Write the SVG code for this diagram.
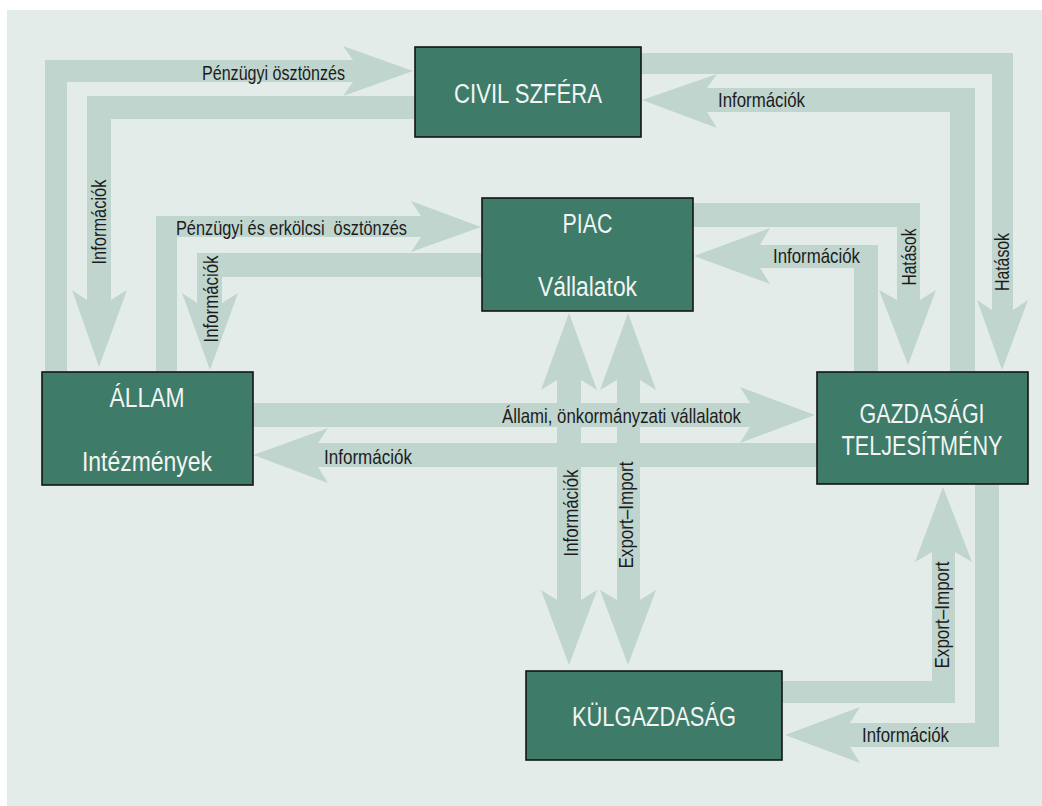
<svg xmlns="http://www.w3.org/2000/svg" width="1042" height="806" viewBox="0 0 1042 806">
<style>
.arr{fill:#bfd5ce;stroke:none}
.box{fill:#3e7b69;stroke:#151515;stroke-width:1.6}
.bt{fill:#f2f5f3;font-family:"Liberation Sans Narrow","Liberation Sans",Arial,sans-serif;font-size:27px;text-anchor:middle}
.lb{fill:#1c1c1c;font-family:"Liberation Sans Narrow","Liberation Sans",Arial,sans-serif;font-size:21px}
.lv{fill:#1c1c1c;font-family:"Liberation Sans Narrow","Liberation Sans",Arial,sans-serif;font-size:21px;text-anchor:middle}
</style>
<rect x="0" y="0" width="1042" height="806" fill="#ffffff"/>
<rect x="7" y="10" width="1035" height="796" fill="#e4ece9"/>
<g id="connectors">
<polygon class="arr" points="45,372 45,60 353,60 343,46 413,71 343,96 353,82 67,82 67,372"/>
<polygon class="arr" points="415,96 87,96 87,300 72,290 99,367 127,290 111,300 111,119 415,119"/>
<polygon class="arr" points="156,372 156,216 421,216 411,201 481,227 411,252 421,237 177,237 177,372"/>
<polygon class="arr" points="482,253 197,253 197,303 182,293 210,370 238,293 222,303 222,277 482,277"/>
<polygon class="arr" points="641,53 1013,53 1013,310 1028,300 1002,370 977,300 992,310 992,74 641,74"/>
<polygon class="arr" points="950,372 950,112 707,112 717,128 642,100 717,74 707,88 975,88 975,372"/>
<polygon class="arr" points="693,203 920,203 920,300 936,290 908,365 879,290 897,300 897,227 693,227"/>
<polygon class="arr" points="854,372 854,268 760,268 770,284 694,256 770,228 760,245 878,245 878,372"/>
<polygon class="arr" points="253,403 750,403 740,387 815,415 740,443 750,427 253,427"/>
<polygon class="arr" points="817,443 318,443 328,428 253,455 328,483 318,467 817,467"/>
<polygon class="arr" points="569,313 597,390 581,380 581,600 597,590 569,665 541,590 557,600 557,380 541,390"/>
<polygon class="arr" points="628,313 656,390 640,380 640,600 656,590 628,665 600,590 617,600 617,380 600,390"/>
<polygon class="arr" points="782,681 932,681 932,552 915,562 943,487 972,562 955,552 955,703 782,703"/>
<polygon class="arr" points="975,484 975,723 850,723 860,707 785,735 860,763 850,747 999,747 999,484"/>
<text class="lb" x="202" y="80" textLength="143" lengthAdjust="spacingAndGlyphs">Pénzügyi ösztönzés</text>
<text class="lb" x="718" y="107" textLength="87" lengthAdjust="spacingAndGlyphs">Információk</text>
<text class="lv" transform="translate(106,222) rotate(-90)" textLength="85" lengthAdjust="spacingAndGlyphs">Információk</text>
<text class="lb" x="176" y="235" textLength="231" lengthAdjust="spacingAndGlyphs" style="white-space:pre">Pénzügyi és erkölcsi  ösztönzés</text>
<text class="lv" transform="translate(218,299) rotate(-90)" textLength="87" lengthAdjust="spacingAndGlyphs">Információk</text>
<text class="lb" x="773" y="263" textLength="87" lengthAdjust="spacingAndGlyphs">Információk</text>
<text class="lv" transform="translate(916,257) rotate(-90)" textLength="57" lengthAdjust="spacingAndGlyphs">Hatások</text>
<text class="lv" transform="translate(1009,262) rotate(-90)" textLength="58" lengthAdjust="spacingAndGlyphs">Hatások</text>
<text class="lb" x="502" y="423" textLength="239" lengthAdjust="spacingAndGlyphs">Állami, önkormányzati vállalatok</text>
<text class="lb" x="324" y="464" textLength="88" lengthAdjust="spacingAndGlyphs">Információk</text>
<text class="lv" transform="translate(578,513) rotate(-90)" textLength="87" lengthAdjust="spacingAndGlyphs">Információk</text>
<text class="lv" transform="translate(633,515) rotate(-90)" textLength="107" lengthAdjust="spacingAndGlyphs">Export–Import</text>
<text class="lv" transform="translate(949,615) rotate(-90)" textLength="107" lengthAdjust="spacingAndGlyphs">Export–Import</text>
<text class="lb" x="862" y="742" textLength="87" lengthAdjust="spacingAndGlyphs">Információk</text>
</g>
<g id="civil">
<rect class="box" x="415" y="47" width="226" height="90"/>
<text class="bt" x="528" y="103" textLength="148" lengthAdjust="spacingAndGlyphs">CIVIL SZFÉRA</text>
</g>
<g id="piac">
<rect class="box" x="482" y="198" width="211" height="113"/>
<text class="bt" x="587.5" y="233" textLength="50" lengthAdjust="spacingAndGlyphs">PIAC</text>
<text class="bt" x="587.5" y="296" textLength="99" lengthAdjust="spacingAndGlyphs">Vállalatok</text>
</g>
<g id="allam">
<rect class="box" x="42" y="372" width="211" height="113"/>
<text class="bt" x="147" y="407" textLength="75" lengthAdjust="spacingAndGlyphs">ÁLLAM</text>
<text class="bt" x="147" y="471" textLength="130" lengthAdjust="spacingAndGlyphs">Intézmények</text>
</g>
<g id="gazdasagi">
<rect class="box" x="817" y="372" width="211" height="112"/>
<text class="bt" x="922" y="423" textLength="125" lengthAdjust="spacingAndGlyphs">GAZDASÁGI</text>
<text class="bt" x="922" y="455" textLength="161" lengthAdjust="spacingAndGlyphs">TELJESÍTMÉNY</text>
</g>
<g id="kulgazdasag">
<rect class="box" x="526" y="671" width="256" height="89"/>
<text class="bt" x="654" y="726" textLength="164" lengthAdjust="spacingAndGlyphs">KÜLGAZDASÁG</text>
</g>
</svg>
